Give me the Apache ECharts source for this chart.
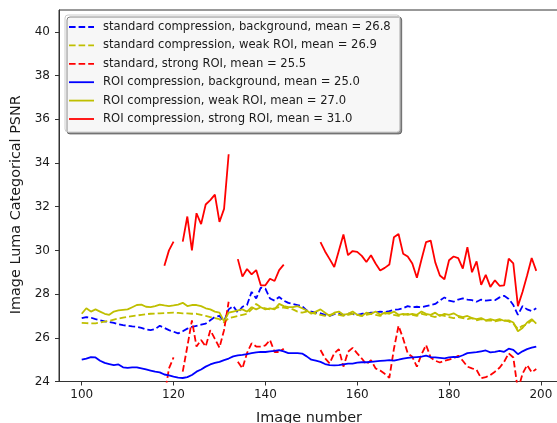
<!DOCTYPE html>
<html>
<head>
<meta charset="utf-8">
<script src="https://cdn.jsdelivr.net/npm/echarts@6/dist/echarts.min.js"></script>
<style>
  html, body { margin: 0; padding: 0; background: #ffffff; }
  #chart { width: 557px; height: 423px; }
</style>
</head>
<body>
<div id="chart"></div>
<script>
// Image numbers run from 100 to 199; null marks images without a value.
const firstImage = 100;
const xTicks = [100, 120, 140, 160, 180, 200];
const yTicks = [24, 26, 28, 30, 32, 34, 36, 38, 40];

const seriesNames = [
  'standard compression, background, mean = 26.8',
  'standard compression, weak ROI, mean = 26.9',
  'standard, strong ROI, mean = 25.5',
  'ROI compression, background, mean = 25.0',
  'ROI compression, weak ROI, mean = 27.0',
  'ROI compression, strong ROI, mean = 31.0'
];

const stdBackground = [
  26.9, 26.95, 26.92, 26.85, 26.8, 26.75, 26.72, 26.68, 26.62, 26.58,
  26.55, 26.52, 26.5, 26.45, 26.38, 26.35, 26.4, 26.55, 26.45, 26.35,
  26.28, 26.2, 26.3, 26.42, 26.5, 26.55, 26.6, 26.65, 26.8, 26.95,
  27.0, 26.75, 27.3, 27.45, 27.15, 27.42, 27.5, 28.1, 27.8, 28.3,
  28.25, 27.8, 27.7, 27.87, 27.7, 27.6, 27.55, 27.5, 27.45, 27.25,
  27.2, 27.15, 27.12, 27.05, 27.0, 27.08, 27.1, 27.05, 27.1, 27.08,
  27.05, 27.1, 27.12, 27.15, 27.15, 27.2, 27.18, 27.22, 27.28, 27.3,
  27.35, 27.45, 27.4, 27.42, 27.4, 27.45, 27.5, 27.55, 27.7, 27.85,
  27.7, 27.65, 27.75, 27.8, 27.75, 27.72, 27.65, 27.75, 27.7, 27.72,
  27.72, 27.85, 27.92, 27.78, 27.5, 27.05, 27.45, 27.3, 27.22, 27.35
];

const stdWeak = [
  26.68, 26.67, 26.66, 26.66, 26.7, 26.74, 26.78, 26.83, 26.88, 26.92,
  26.96, 26.99, 27.02, 27.05, 27.08, 27.1, 27.11, 27.12, 27.13, 27.14,
  27.15, 27.14, 27.12, 27.12, 27.1, 27.1, 27.05, 27.0, 26.95, 26.9,
  26.85, 26.7, 26.9, 26.95, 27.0, 27.05, 27.1, 27.3, 27.55, 27.4,
  27.35, 27.3, 27.35, 27.4, 27.38, 27.35, 27.3, 27.2, 27.15, 27.2,
  27.15, 27.1, 27.05, 27.0, 27.05, 27.1, 27.05, 27.0, 27.05, 27.1,
  27.05, 27.0, 27.05, 27.1, 27.05, 27.0, 27.1, 27.15, 27.05, 27.0,
  27.05, 27.1, 27.05, 27.0, 27.1, 27.05, 27.0, 26.95, 27.05, 27.0,
  26.95, 26.9, 26.95, 26.9, 26.85, 26.9, 26.8, 26.85, 26.78, 26.8,
  26.75, 26.8, 26.8, 26.75, 26.65, 26.4, 26.55, 26.6, 26.8, 26.75
];

const stdStrong = [
  null, null, null, null, null, null, null, null, null, null,
  null, null, null, null, null, null, null, null, 23.3, 24.6,
  25.1, null, 24.45, 25.6, 26.8, 25.6, 25.9, 25.6, 26.35, 25.95,
  25.55, 26.35, 27.65, null, 24.9, 24.6, 25.3, 25.75, 25.6, 25.6,
  25.65, 25.9, 25.35, 25.35, 25.5, null, null, null, null, null,
  null, null, 25.44, 25.06, 24.83, 25.29, 25.48, 24.68, 25.36, 25.54,
  25.29, 25.05, 24.79, 24.98, 24.6, 24.5, 24.35, 24.17, 25.5, 26.55,
  25.97, 25.29, 25.13, 24.68, 25.24, 25.67, 25.1, 24.95, 24.87, 24.95,
  25.0, 25.06, 25.18, 24.95, 24.68, 24.6, 24.53, 24.15, 24.2, 24.3,
  24.45, 24.63, 24.9, 25.29, 25.1, 23.6, 24.35, 24.75, 24.42, 24.57
];

const roiBackground = [
  25.0, 25.05, 25.12, 25.1, 24.95, 24.85, 24.8, 24.75, 24.78, 24.65,
  24.62, 24.65, 24.65, 24.6, 24.55, 24.5, 24.45, 24.42, 24.32, 24.28,
  24.22, 24.18, 24.16, 24.2, 24.3, 24.45, 24.55, 24.68, 24.78, 24.85,
  24.9, 24.98, 25.05, 25.15, 25.2, 25.22, 25.25, 25.3, 25.33, 25.36,
  25.35, 25.38, 25.4, 25.44, 25.38, 25.3, 25.3, 25.3, 25.28, 25.15,
  25.0, 24.95, 24.9, 24.8, 24.75, 24.74, 24.75, 24.78, 24.82, 24.82,
  24.86, 24.88, 24.88, 24.9, 24.92, 24.94, 24.96, 24.98, 24.96, 25.0,
  25.05, 25.08, 25.1, 25.12, 25.14, 25.18, 25.12, 25.1, 25.08, 25.06,
  25.1, 25.13, 25.12, 25.2, 25.3, 25.32, 25.34, 25.38, 25.42, 25.33,
  25.36, 25.4, 25.36, 25.5, 25.45, 25.25, 25.38, 25.48, 25.55, 25.6
];

const roiWeak = [
  27.1, 27.35, 27.2, 27.3, 27.2, 27.1, 27.05, 27.2, 27.25, 27.28,
  27.3, 27.4, 27.5, 27.52, 27.42, 27.4, 27.45, 27.52, 27.48, 27.45,
  27.48, 27.52, 27.6, 27.45, 27.5, 27.5, 27.45, 27.35, 27.3, 27.2,
  27.15, 26.75, 27.15, 27.2, 27.25, 27.3, 27.2, 27.4, 27.3, 27.4,
  27.3, 27.35, 27.3, 27.55, 27.45, 27.4, 27.4, 27.45, 27.35, 27.25,
  27.1, 27.2, 27.3, 27.15, 27.0, 27.15, 27.2, 27.05, 27.1, 27.2,
  27.05, 27.0, 27.15, 27.1, 27.2, 27.05, 27.15, 27.1, 27.2, 27.05,
  27.1, 27.05, 27.1, 27.05, 27.2, 27.1, 27.05, 27.15, 27.0, 27.1,
  27.05, 27.12, 27.0, 26.95, 27.0, 26.9, 26.85, 26.9, 26.8, 26.85,
  26.8, 26.85, 26.78, 26.8, 26.7, 26.3, 26.45, 26.7, 26.85, 26.65
];

const roiStrong = [
  null, null, null, null, null, null, null, null, null, null,
  null, null, null, null, null, null, null, null, 29.3, 30.0,
  30.4, null, 30.4, 31.55, 30.0, 31.7, 31.2, 32.1, 32.3, 32.55,
  31.3, 31.9, 34.4, null, 29.6, 28.8, 29.15, 28.9, 29.1, 28.4,
  28.4, 28.7, 28.6, 29.1, 29.35, null, null, null, null, null,
  null, null, 30.38, 29.95, 29.6, 29.24, 29.98, 30.73, 29.78, 29.97,
  29.93, 29.75, 29.47, 29.78, 29.4, 29.08, 29.2, 29.35, 30.6, 30.75,
  29.85, 29.72, 29.4, 28.75, 29.58, 30.38, 30.45, 29.45, 28.85, 28.68,
  29.55, 29.72, 29.65, 29.17, 30.15, 29.0, 29.5, 28.42, 28.88, 28.33,
  28.63, 28.38, 28.4, 29.62, 29.4, 27.45, 28.1, 28.85, 29.65, 29.06
];

const seriesValues = [stdBackground, stdWeak, stdStrong, roiBackground, roiWeak, roiStrong];
const seriesColors = ['#0000ff', '#bfbf00', '#ff0000', '#0000ff', '#bfbf00', '#ff0000'];
const seriesDashed = [true, true, true, false, false, false];

const fontFamily = '"DejaVu Sans", sans-serif';
const inkColor = '#1a1a1a';
const spineColor = '#333333';
const lineWidth = 1.8;
const dashPattern = [6.6, 3.0];

// Legend handles: a stroke 25 units long and 1.8 thick, solid or split into dashes.
const solidHandle = 'path://M0,0H25V1.8H0Z';
const dashedHandle = 'path://M0,0H6.6V1.8H0Z M9.6,0H16.2V1.8H9.6Z M19.2,0H25V1.8H19.2Z';

function toPoints(values) {
  return values.map((v, i) => [firstImage + i, v]);
}

const chart = echarts.init(document.getElementById('chart'), null, { renderer: 'canvas' });

chart.setOption({
  animation: false,
  backgroundColor: '#ffffff',
  textStyle: { fontFamily: fontFamily },
  grid: {
    left: 59, top: 10, width: 500, height: 371.5,
    outerBoundsMode: 'none',
    containLabel: false,
    show: true, borderColor: spineColor, borderWidth: 1,
    backgroundColor: 'transparent'
  },
  legend: {
    orient: 'vertical',
    left: 65, top: 15,
    data: seriesNames.map((name, k) => ({
      name: name,
      icon: seriesDashed[k] ? dashedHandle : solidHandle,
      itemStyle: { color: seriesColors[k] }
    })),
    itemWidth: 25,
    itemHeight: lineWidth,
    symbolKeepAspect: false,
    itemGap: 4.4,
    padding: [5, 9, 6, 4],
    backgroundColor: 'rgba(255,255,255,0.92)',
    borderColor: '#cccccc',
    borderWidth: 1,
    borderRadius: 3,
    shadowColor: 'rgba(0,0,0,0.45)',
    shadowBlur: 0,
    shadowOffsetX: 2,
    shadowOffsetY: 2,
    selectedMode: false,
    textStyle: {
      fontFamily: fontFamily, fontSize: 11.6, lineHeight: 14,
      color: inkColor, padding: [0, 0, 0, 4]
    }
  },
  xAxis: {
    type: 'value',
    min: 95.05, max: 203.95,
    name: 'Image number',
    nameLocation: 'middle',
    nameGap: 30,
    nameTextStyle: { fontFamily: fontFamily, fontSize: 14.4, color: inkColor },
    axisLine: { show: true, onZero: false, lineStyle: { color: spineColor, width: 1 } },
    axisTick: { show: true, length: 4, customValues: xTicks, lineStyle: { color: spineColor } },
    axisLabel: { customValues: xTicks, fontSize: 12, color: inkColor, margin: 7, fontFamily: fontFamily },
    splitLine: { show: false }
  },
  yAxis: {
    type: 'value',
    min: 24, max: 41,
    name: 'Image Luma Categorical PSNR',
    nameLocation: 'middle',
    nameGap: 36,
    nameTextStyle: { fontFamily: fontFamily, fontSize: 14.4, color: inkColor, padding: [0, 18, 0, 0] },
    axisLine: { show: true, onZero: false, lineStyle: { color: spineColor, width: 1 } },
    axisTick: { show: true, length: 4, customValues: yTicks, lineStyle: { color: spineColor } },
    axisLabel: { customValues: yTicks, fontSize: 12, color: inkColor, margin: 9, fontFamily: fontFamily },
    splitLine: { show: false }
  },
  series: seriesNames.map((name, k) => ({
    name: name,
    type: 'line',
    data: toPoints(seriesValues[k]),
    symbol: 'none',
    clip: true,
    connectNulls: false,
    itemStyle: { color: seriesColors[k] },
    lineStyle: {
      color: seriesColors[k],
      width: lineWidth,
      type: seriesDashed[k] ? dashPattern : 'solid'
    },
    emphasis: { disabled: true }
  }))
});
</script>
</body>
</html>
